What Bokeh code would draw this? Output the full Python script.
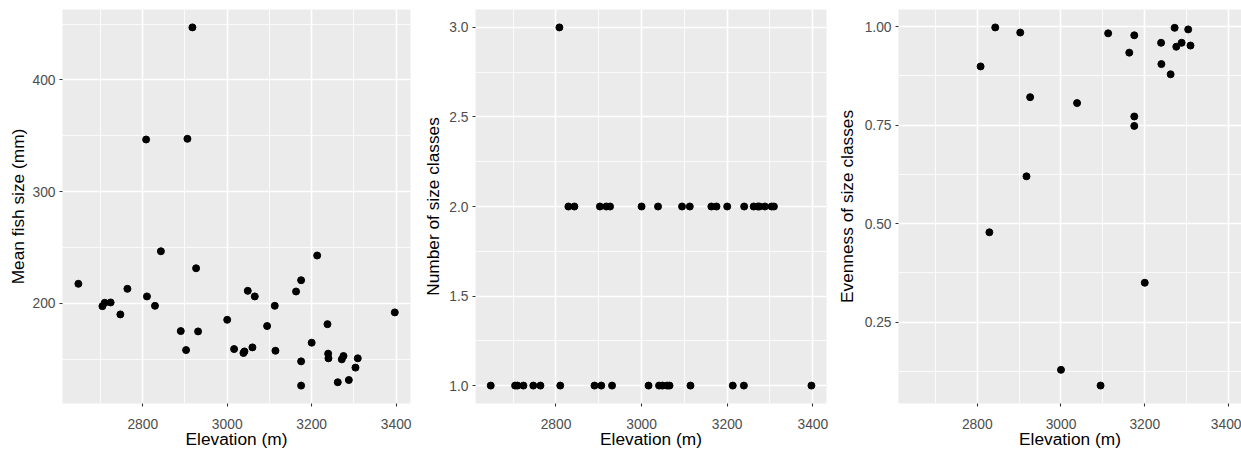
from bokeh.plotting import figure
from bokeh.layouts import row
from bokeh.models import Range1d, FixedTicker, PrintfTickFormatter, BasicTickFormatter
from bokeh.embed import file_html
from bokeh.resources import INLINE

# ---- data ----
elev_size = [2647.6, 2704.5, 2710.0, 2724.0, 2747.0, 2763.7, 2808.0, 2810.0, 2829.0, 2843.0,
             2890.0, 2902.6, 2905.8, 2917.6, 2926.3, 2931.0, 3000.0, 3016.3, 3038.4, 3040.8,
             3048.7, 3059.7, 3065.3, 3094.5, 3112.6, 3114.2, 3163.0, 3175.0, 3175.0, 3175.0,
             3200.0, 3213.0, 3237.4, 3239.0, 3239.7, 3261.8, 3271.3, 3275.3, 3288.0, 3303.7,
             3309.2, 3396.8]
mean_size = [217.6, 197.6, 200.6, 200.9, 190.2, 213.1, 346.7, 206.3, 197.9, 246.7,
             175.3, 158.3, 347.3, 447.0, 231.5, 175.0, 185.4, 159.2, 155.7, 157.1,
             211.3, 160.7, 206.3, 179.8, 197.9, 157.7, 210.7, 220.8, 148.2, 126.5,
             164.9, 242.9, 181.5, 155.1, 150.9, 129.5, 150.0, 153.0, 131.5, 142.6,
             150.9, 192.0]

elev_classes = [2647.6, 2704.5, 2710.0, 2724.0, 2747.0, 2763.7, 2810.0, 2890.0, 2905.8, 2931.0,
                3016.3, 3040.8, 3048.7, 3059.7, 3065.3, 3114.2, 3213.0, 3239.0, 3396.8,
                2829.0, 2843.0, 2902.6, 2917.6, 2926.3, 3000.0, 3038.4, 3094.5, 3112.6, 3163.0,
                3175.0, 3200.0, 3239.7, 3261.8, 3271.3, 3275.3, 3288.0, 3303.7, 3309.2,
                2808.0]
n_classes = [1, 1, 1, 1, 1, 1, 1, 1, 1, 1,
             1, 1, 1, 1, 1, 1, 1, 1, 1,
             2, 2, 2, 2, 2, 2, 2, 2, 2, 2,
             2, 2, 2, 2, 2, 2, 2, 2, 2,
             3]

elev_even = [2808.0, 2829.0, 2843.0, 2902.6, 2917.6, 2926.3, 3000.0, 3038.4, 3094.5, 3112.6,
             3163.0, 3175.0, 3175.0, 3175.0, 3200.0, 3239.0, 3239.7, 3261.8, 3271.3, 3275.3,
             3288.0, 3303.7, 3309.2]
evenness = [0.899, 0.478, 0.998, 0.985, 0.620, 0.821, 0.129, 0.806, 0.089, 0.983,
            0.934, 0.772, 0.748, 0.978, 0.350, 0.959, 0.905, 0.879, 0.997, 0.949,
            0.959, 0.993, 0.952]

x_ticks = [2800, 3000, 3200, 3400]
x_minor = [2700, 2900, 3100, 3300]
size_ticks = [200, 300, 400]
size_minor = [150, 250, 350, 450]
class_ticks = [1.0, 1.5, 2.0, 2.5, 3.0]
class_minor = [1.25, 1.75, 2.25, 2.75]
even_ticks = [0.25, 0.50, 0.75, 1.00]
even_minor = [0.125, 0.375, 0.625, 0.875]

FONT = "Liberation Sans"


def make_fig(x, y, xr, yr, yticks, yminor, ylabel, yfmt, width, left, right, ystand):
    p = figure(width=width, height=452, x_range=Range1d(*xr), y_range=Range1d(*yr),
               output_backend="svg", toolbar_location=None,
               min_border_left=left, min_border_right=right,
               min_border_top=9, min_border_bottom=49)
    p.background_fill_color = "#EBEBEB"
    p.border_fill_color = "white"
    p.outline_line_color = None

    p.xaxis.ticker = FixedTicker(ticks=x_ticks, minor_ticks=x_minor)
    p.yaxis.ticker = FixedTicker(ticks=yticks, minor_ticks=yminor)
    p.yaxis.formatter = yfmt
    p.xaxis.formatter = BasicTickFormatter(use_scientific=False)

    for g in (p.xgrid, p.ygrid):
        g.grid_line_color = "white"
        g.grid_line_width = 1.6
        g.minor_grid_line_color = "white"
        g.minor_grid_line_width = 0.8

    for ax in (p.xaxis, p.yaxis):
        ax.axis_line_color = None
        ax.major_tick_line_color = "#333333"
        ax.major_tick_line_width = 1.1
        ax.major_tick_in = 0
        ax.major_tick_out = 3
        ax.minor_tick_line_color = None
        ax.major_label_text_font = FONT
        ax.major_label_text_font_size = "13.8px"
        ax.major_label_text_color = "#4D4D4D"
        ax.axis_label_text_font = FONT
        ax.axis_label_text_font_size = "17.3px"
        ax.axis_label_text_font_style = "normal"
        ax.axis_label_text_color = "black"

    p.xaxis.axis_label = "Elevation (m)"
    p.xaxis.major_label_standoff = 11
    p.xaxis.axis_label_standoff = -3
    p.yaxis.axis_label = ylabel
    p.yaxis.major_label_standoff = 3
    p.yaxis.axis_label_standoff = ystand

    p.scatter(x, y, size=7, color="black")
    return p


p1 = make_fig(elev_size, mean_size, (2610, 3434), (110.5, 463.0), size_ticks, size_minor,
              "Mean fish size (mm)", BasicTickFormatter(), 415, 62, 5, 1)
p2 = make_fig(elev_classes, n_classes, (2612, 3432), (0.9, 3.1), class_ticks, class_minor,
              "Number of size classes", PrintfTickFormatter(format="%.1f"), 415, 60, 4, 3)
p3 = make_fig(elev_even, evenness, (2612, 3431), (0.0435, 1.0435), even_ticks, even_minor,
              "Evenness of size classes", PrintfTickFormatter(format="%.2f"), 411, 68, 0, 5)

layout = row(p1, p2, p3)
open("out.html", "w").write(file_html(layout, INLINE))
